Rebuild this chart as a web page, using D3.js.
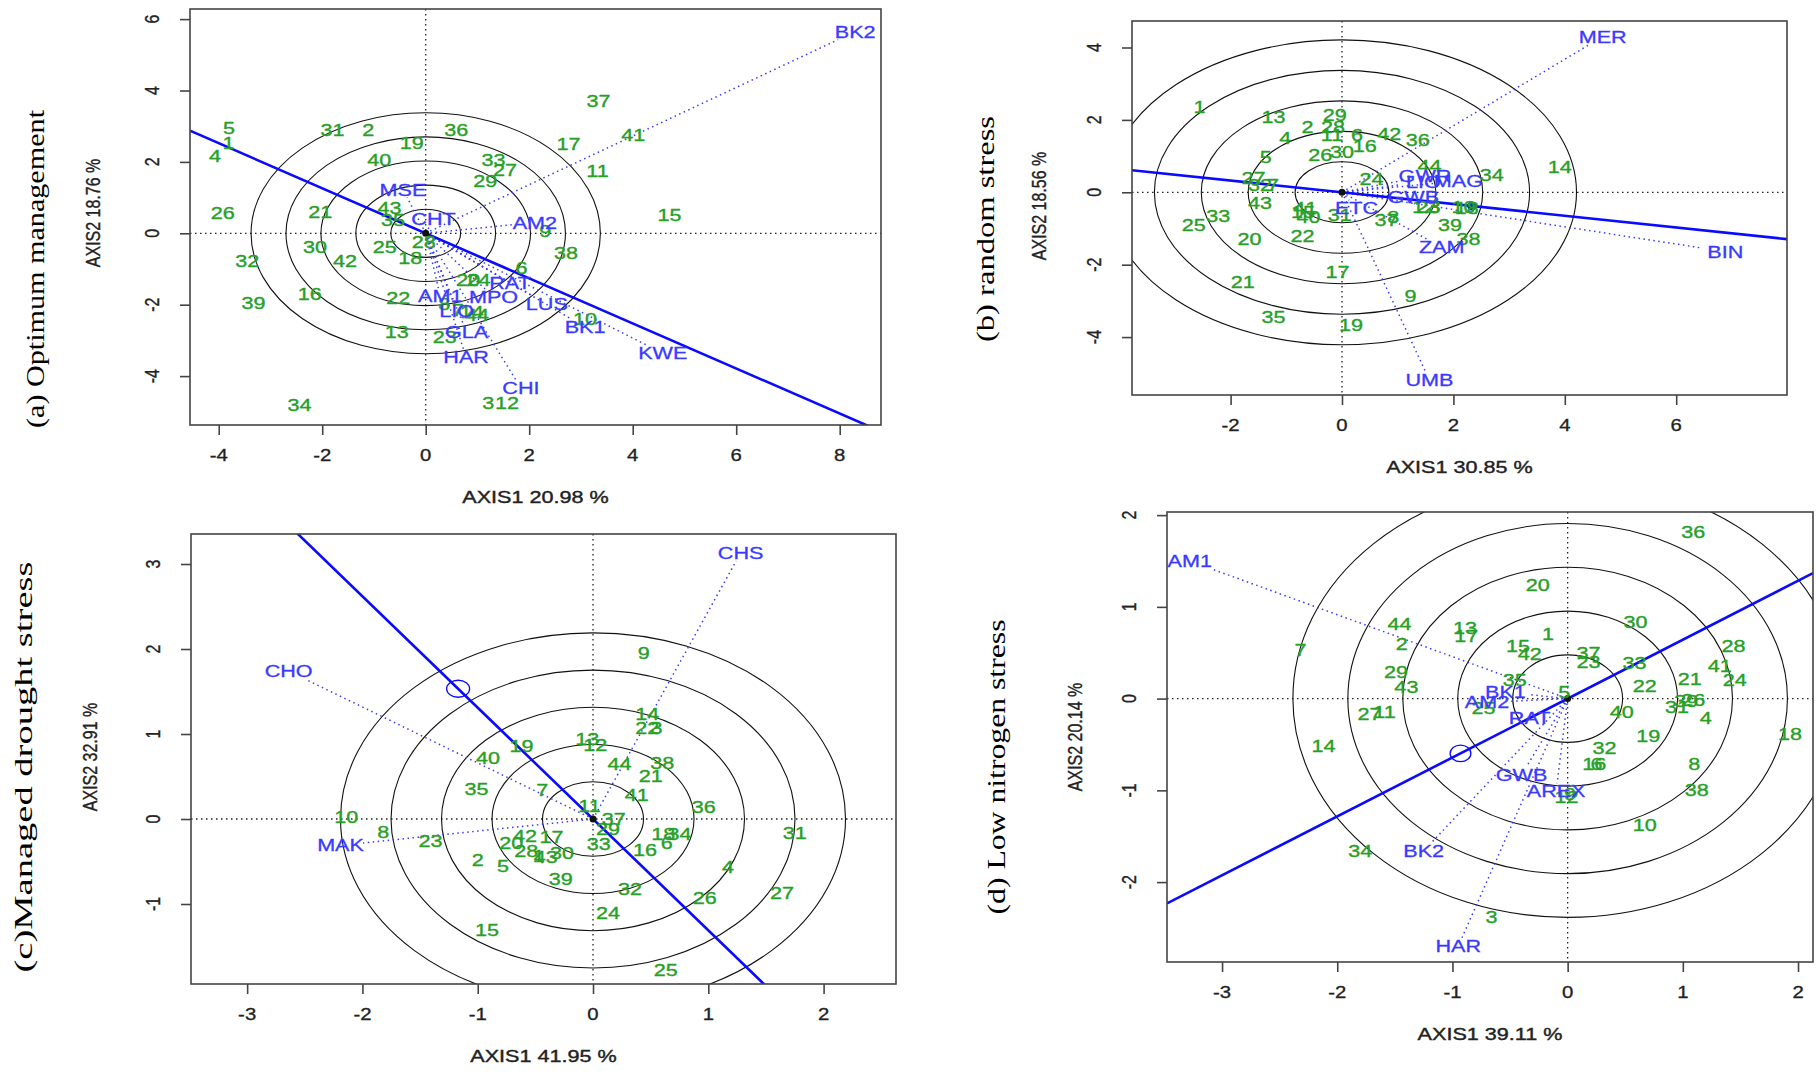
<!DOCTYPE html>
<html><head><meta charset="utf-8">
<script src="https://cdn.jsdelivr.net/npm/d3@7"></script>
<style>body{margin:0;background:#fff}svg{display:block}</style>
</head><body>
<svg id="chart" width="1816" height="1074"></svg>
<script>
// ---------------- DATA ----------------
const panelTitles = ["(a) Optimum management", "(b) random stress", "(c)Managed drought stress", "(d) Low nitrogen stress"];
const xAxisTitles = ["AXIS1 20.98 %", "AXIS1 30.85 %", "AXIS1 41.95 %", "AXIS1 39.11 %"];
const yAxisTitles = ["AXIS2 18.76 %", "AXIS2 18.56 %", "AXIS2 32.91 %", "AXIS2 20.14 %"];

const xTicksA = [-4, -2, 0, 2, 4, 6, 8];
const yTicksA = [-4, -2, 0, 2, 4, 6];
const xTicksB = [-2, 0, 2, 4, 6];
const yTicksB = [-4, -2, 0, 2, 4];
const xTicksC = [-3, -2, -1, 0, 1, 2];
const yTicksC = [-1, 0, 1, 2, 3];
const xTicksD = [-3, -2, -1, 0, 1, 2];
const yTicksD = [-2, -1, 0, 1, 2];

// concentric circle radii (data units)
const ringsA = [0.675, 1.35, 2.025, 2.70, 3.375];
const ringsB = [0.842, 1.684, 2.526, 3.368, 4.21];
const ringsC = [0.438, 0.876, 1.314, 1.752, 2.19];
const ringsD = [0.477, 0.954, 1.431, 1.908, 2.385];

// average-environment axis slopes and marker points
const aeaSlopes = [-0.631, -0.162, -1.31, 0.642];
const aeaMarkerX = [null, 2.33, -1.17, -0.93];
const aeaMarkerR = [0, 0, 0.1, 0.09];

// genotypes: [label, PC1, PC2]
const genA = [["1",-3.81,2.54],["2",-1.11,2.91],["3",1.21,-4.74],["4",-4.07,2.17],["5",-3.80,2.94],["6",1.85,-0.98],["7",0.62,-2.15],["8",0.36,-1.98],["9",2.31,0.06],["10",3.08,-2.41],["11",3.32,1.75],["12",1.57,-4.74],["13",-0.56,-2.76],["14",0.89,-2.20],["15",4.71,0.51],["16",-2.24,-1.71],["17",2.76,2.50],["18",-0.30,-0.70],["19",-0.27,2.52],["20",0.82,-1.31],["21",-2.04,0.59],["22",-0.53,-1.82],["23",0.37,-2.90],["24",1.02,-1.31],["25",-0.79,-0.37],["26",-3.92,0.56],["27",1.53,1.79],["28",-0.04,-0.25],["29",1.15,1.47],["30",-2.14,-0.37],["31",-1.80,2.91],["32",-3.45,-0.77],["33",1.31,2.07],["34",-2.44,-4.81],["35",-0.63,0.37],["36",0.59,2.91],["37",3.34,3.71],["38",2.71,-0.56],["39",-3.33,-1.94],["40",-0.90,2.05],["41",4.01,2.75],["42",-1.56,-0.77],["43",-0.70,0.70],["44",0.99,-2.29]];
const genB = [["1",-2.56,2.35],["2",-0.62,1.81],["3",1.66,-0.40],["4",-1.02,1.49],["5",-1.37,0.98],["6",0.27,1.58],["7",-1.24,0.20],["8",0.92,-0.67],["9",1.23,-2.86],["10",2.18,-0.40],["11",-0.18,1.58],["12",1.47,-0.40],["13",-1.23,2.09],["14",3.91,0.69],["15",-0.70,-0.55],["16",0.41,1.28],["17",-0.08,-2.19],["18",2.24,-0.42],["19",0.16,-3.67],["20",-1.66,-1.30],["21",-1.78,-2.47],["22",-0.71,-1.21],["23",1.55,-0.41],["24",0.53,0.36],["25",-2.66,-0.90],["26",-0.39,1.03],["27",-1.59,0.41],["28",-0.16,1.81],["29",-0.13,2.14],["30",0.00,1.12],["31",-0.04,-0.63],["32",-1.47,0.20],["33",-2.22,-0.65],["34",2.69,0.48],["35",-1.23,-3.44],["36",1.36,1.46],["37",0.80,-0.75],["38",2.27,-1.30],["39",1.94,-0.91],["40",-0.60,-0.67],["41",-0.66,-0.44],["42",0.85,1.61],["43",-1.47,-0.30],["44",1.57,0.73]];
const genC = [["1",-0.47,-0.43],["2",-1.00,-0.48],["3",0.55,1.07],["4",1.17,-0.56],["5",-0.78,-0.55],["6",0.64,-0.28],["7",-0.44,0.34],["8",-1.82,-0.15],["9",0.44,1.95],["10",-2.14,0.02],["11",-0.03,0.15],["12",0.02,0.87],["13",-0.05,0.94],["14",0.47,1.24],["15",-0.92,-1.30],["16",0.45,-0.36],["17",-0.36,-0.21],["18",0.61,-0.17],["19",-0.62,0.86],["20",-0.71,-0.28],["21",0.50,0.51],["22",0.47,1.07],["23",-1.41,-0.26],["24",0.13,-1.10],["25",0.63,-1.78],["26",0.97,-0.93],["27",1.64,-0.87],["28",-0.58,-0.38],["29",0.13,-0.12],["30",-0.27,-0.40],["31",1.75,-0.16],["32",0.32,-0.82],["33",0.05,-0.29],["34",0.75,-0.17],["35",-1.01,0.36],["36",0.96,0.14],["37",0.18,0.00],["38",0.60,0.66],["39",-0.28,-0.71],["40",-0.91,0.72],["41",0.38,0.28],["42",-0.59,-0.20],["43",-0.41,-0.44],["44",0.23,0.65]];
const genD = [["1",-0.17,0.71],["2",-1.44,0.60],["3",-0.66,-2.38],["4",1.20,-0.21],["5",-0.03,0.07],["6",0.25,-0.71],["7",-2.32,0.53],["8",1.10,-0.71],["9",0.02,-1.04],["10",0.67,-1.38],["11",-1.59,-0.15],["12",-0.01,-1.07],["13",-0.89,0.77],["14",-2.12,-0.52],["15",-0.43,0.57],["16",0.23,-0.71],["17",-0.88,0.68],["18",1.93,-0.38],["19",0.70,-0.41],["20",-0.26,1.24],["21",1.06,0.22],["22",0.67,0.14],["23",0.18,0.40],["24",1.45,0.20],["25",-0.73,-0.10],["26",1.09,-0.01],["27",-1.72,-0.17],["28",1.44,0.57],["29",-1.49,0.29],["30",0.59,0.84],["31",0.95,-0.09],["32",0.32,-0.54],["33",0.58,0.39],["34",-1.80,-1.66],["35",-0.46,0.20],["36",1.09,1.82],["37",0.18,0.50],["38",1.12,-1.00],["39",1.03,-0.03],["40",0.47,-0.14],["41",1.32,0.36],["42",-0.33,0.49],["43",-1.40,0.13],["44",-1.46,0.81]];

// environments: [label, PC1, PC2]
const envA = [["BK2",8.30,5.65],["MSE",-0.44,1.23],["CHT",0.15,0.40],["AM2",2.11,0.30],["RAT",1.63,-1.38],["AM1",0.28,-1.76],["MPO",1.31,-1.78],["LUS",2.34,-1.98],["LIO",0.60,-2.17],["GLA",0.79,-2.76],["HAR",0.78,-3.47],["CHI",1.84,-4.34],["BK1",3.08,-2.63],["KWE",4.58,-3.36]];
const envB = [["MER",4.68,4.30],["GWR",1.49,0.45],["LIO",1.46,0.29],["MAG",2.09,0.31],["GWB",1.28,-0.14],["ETC",0.26,-0.44],["ZAM",1.79,-1.52],["UMB",1.57,-5.19],["BIN",6.88,-1.64]];
const envC = [["CHO",-2.64,1.74],["MAK",-2.19,-0.31],["CHS",1.28,3.13]];
const envD = [["AM1",-3.28,1.50],["BK2",-1.25,-1.66],["HAR",-0.95,-2.70],["GWB",-0.40,-0.83],["AREX",-0.10,-1.01],["RAT",-0.33,-0.21],["BK1",-0.54,0.07],["AM2",-0.70,-0.04]];

// ---------------- LAYOUT ----------------
const layouts = [
  {box:[190,9,881,425], xd:[-4.555,8.798], yd:[-5.370,6.283], title:[35,269,318], yt:[93,213]},
  {box:[1132,21,1787,395], xd:[-3.770,7.989], yd:[-5.600,4.732], title:[985,229,226], yt:[1039,206]},
  {box:[191,534,896,984], xd:[-3.487,2.628], yd:[-1.941,3.353], title:[23,767,411], yt:[90,757]},
  {box:[1167,512,1813,962], xd:[-3.478,2.130], yd:[-2.871,2.034], title:[996,767,295], yt:[1075,737]}
];
const xTicksAll = [xTicksA, xTicksB, xTicksC, xTicksD];
const yTicksAll = [yTicksA, yTicksB, yTicksC, yTicksD];
const ringsAll = [ringsA, ringsB, ringsC, ringsD];
const gensAll = [genA, genB, genC, genD];
const envsAll = [envA, envB, envC, envD];

const GREEN = "#26a026", BLUE = "#3a3aff", SX = 1.27;
const svg = d3.select("#chart");

function sText(g, x, y, txt, color, size, sw) {
  return g.append("text")
    .attr("transform", `translate(${x},${y}) scale(${SX},1)`)
    .attr("text-anchor", "middle").attr("dy", "0.36em")
    .attr("font-family", "'Liberation Sans', Arial, sans-serif")
    .attr("font-size", size).attr("fill", color)
    .attr("stroke", color).attr("stroke-width", sw || 0)
    .text(txt);
}

layouts.forEach((L, i) => {
  const [x0, y0, x1, y1] = L.box;
  const x = d3.scaleLinear().domain(L.xd).range([x0, x1]);
  const y = d3.scaleLinear().domain(L.yd).range([y1, y0]);
  const g = svg.append("g");
  const cid = "clip" + i;
  g.append("clipPath").attr("id", cid).append("rect")
    .attr("x", x0).attr("y", y0).attr("width", x1 - x0).attr("height", y1 - y0);
  const inner = g.append("g").attr("clip-path", `url(#${cid})`);

  // dotted axes through origin
  inner.append("line").attr("x1", x0).attr("x2", x1).attr("y1", y(0)).attr("y2", y(0))
    .attr("stroke", "#222").attr("stroke-width", 1.3).attr("stroke-dasharray", "1.5,3.5");
  inner.append("line").attr("y1", y0).attr("y2", y1).attr("x1", x(0)).attr("x2", x(0))
    .attr("stroke", "#222").attr("stroke-width", 1.3).attr("stroke-dasharray", "1.5,3.5");

  // concentric circles
  ringsAll[i].forEach(r => {
    inner.append("ellipse").attr("cx", x(0)).attr("cy", y(0))
      .attr("rx", x(r) - x(0)).attr("ry", y(0) - y(r))
      .attr("fill", "none").attr("stroke", "#111").attr("stroke-width", 1.1);
  });

  // environment vectors
  envsAll[i].forEach(([lab, ex, ey]) => {
    const px = x(ex), py = y(ey), ox = x(0), oy = y(0);
    const dx = px - ox, dy = py - oy, len = Math.hypot(dx, dy);
    let ux = dx / len, uy = dy / len;
    const hw = lab.length * 7.5, hh = 8;
    const t = Math.min(Math.abs(ux) > 1e-6 ? hw / Math.abs(ux) : 1e9, Math.abs(uy) > 1e-6 ? hh / Math.abs(uy) : 1e9);
    const L2 = Math.max(0, len - t);
    inner.append("line").attr("x1", ox).attr("y1", oy)
      .attr("x2", ox + ux * L2).attr("y2", oy + uy * L2)
      .attr("stroke", BLUE).attr("stroke-width", 1.5).attr("stroke-dasharray", "1.5,3.5");
  });

  // average environment axis
  const s = aeaSlopes[i];
  inner.append("line")
    .attr("x1", x(L.xd[0])).attr("y1", y(s * L.xd[0]))
    .attr("x2", x(L.xd[1])).attr("y2", y(s * L.xd[1]))
    .attr("stroke", "#0a0aff").attr("stroke-width", 2.6);
  if (aeaMarkerX[i] !== null) {
    const mx = aeaMarkerX[i], my = s * mx;
    if (aeaMarkerR[i] > 0) {
      inner.append("ellipse").attr("cx", x(mx)).attr("cy", y(my))
        .attr("rx", x(aeaMarkerR[i]) - x(0)).attr("ry", y(0) - y(aeaMarkerR[i]))
        .attr("fill", "none").attr("stroke", "#0a0aff").attr("stroke-width", 1.3);
    } else {
      inner.append("circle").attr("cx", x(mx)).attr("cy", y(my)).attr("r", 4.5).attr("fill", "#0a0aff");
    }
  }
  // origin dot
  inner.append("circle").attr("cx", x(0)).attr("cy", y(0)).attr("r", 3.5).attr("fill", "#111");

  // labels
  gensAll[i].forEach(([lab, gx, gy]) => sText(inner, x(gx), y(gy), lab, GREEN, 17, 0.35));
  envsAll[i].forEach(([lab, ex, ey]) => sText(inner, x(ex), y(ey), lab, BLUE, 17, 0.3));

  // box
  g.append("rect").attr("x", x0).attr("y", y0).attr("width", x1 - x0).attr("height", y1 - y0)
    .attr("fill", "none").attr("stroke", "#444").attr("stroke-width", 1.6);

  // axes ticks
  const ax = g.append("g").attr("transform", `translate(0,${y1})`)
    .call(d3.axisBottom(x).tickValues(xTicksAll[i]).tickSize(10).tickFormat(d3.format("d")));
  ax.select(".domain").remove();
  ax.selectAll("line").attr("stroke", "#444").attr("stroke-width", 1.6);
  ax.selectAll("text").remove();
  xTicksAll[i].forEach(v => sText(g, x(v), y1 + 30, String(v), "#222", 16, 0.3));

  const ay = g.append("g").attr("transform", `translate(${x0},0)`)
    .call(d3.axisLeft(y).tickValues(yTicksAll[i]).tickSize(10));
  ay.select(".domain").remove();
  ay.selectAll("line").attr("stroke", "#444").attr("stroke-width", 1.6);
  ay.selectAll("text").remove();
  yTicksAll[i].forEach(v => {
    g.append("text")
      .attr("transform", `translate(${x0 - 38},${y(v)}) rotate(-90) scale(1,${SX})`)
      .attr("text-anchor", "middle").attr("dy", "0.36em")
      .attr("font-family", "'Liberation Sans', Arial, sans-serif")
      .attr("font-size", 16).attr("fill", "#222").attr("stroke", "#222").attr("stroke-width", 0.3)
      .text(String(v));
  });

  // axis titles
  sText(g, (x0 + x1) / 2, y1 + 72, xAxisTitles[i], "#222", 17, 0.4);
  g.append("text")
    .attr("transform", `translate(${L.yt[0]},${L.yt[1]}) rotate(-90) scale(1,${SX})`)
    .attr("text-anchor", "middle").attr("dy", "0.36em")
    .attr("font-family", "'Liberation Sans', Arial, sans-serif")
    .attr("font-size", 16).attr("fill", "#222").attr("stroke", "#222").attr("stroke-width", 0.3)
    .text(yAxisTitles[i]);

  // panel title
  g.append("text")
    .attr("transform", `translate(${L.title[0]},${L.title[1]}) rotate(-90)`)
    .attr("text-anchor", "middle").attr("dy", "0.36em")
    .attr("font-family", "'Liberation Serif', 'Times New Roman', serif")
    .attr("font-size", 26).attr("fill", "#000")
    .attr("textLength", L.title[2]).attr("lengthAdjust", "spacingAndGlyphs")
    .text(panelTitles[i]);
});
</script>
</body></html>
